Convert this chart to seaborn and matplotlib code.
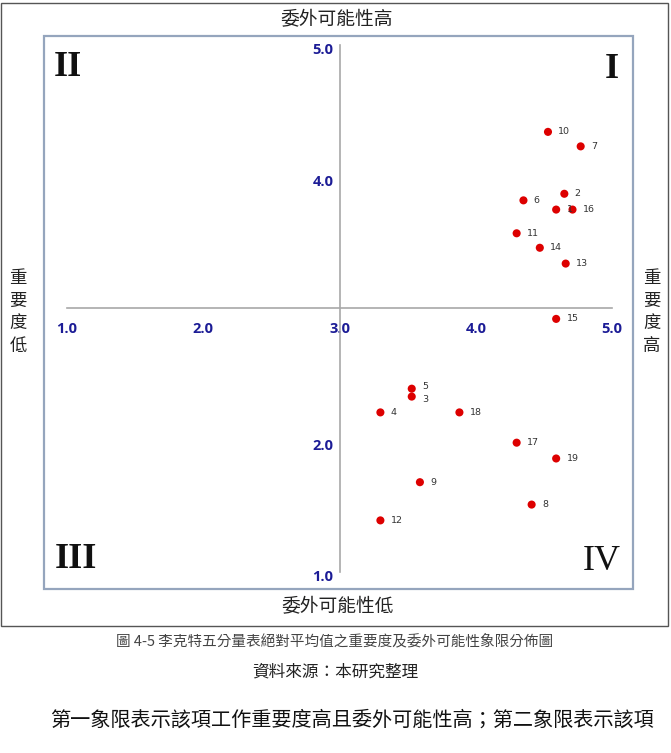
import matplotlib
matplotlib.use("Agg")
import matplotlib.pyplot as plt
import matplotlib.transforms as mtransforms
from matplotlib.patches import Rectangle
import seaborn as sns
import pandas as pd

# ---- data ----
item_ids = ["1", "2", "3", "4", "5", "6", "7", "8", "9", "10",
            "11", "12", "13", "14", "15", "16", "17", "18", "19"]
outsourcing = [4.59, 4.65, 3.53, 3.30, 3.53, 4.35, 4.77, 4.41, 3.59, 4.53,
               4.30, 3.30, 4.66, 4.47, 4.59, 4.71, 4.30, 3.88, 4.59]
importance = [3.75, 3.87, 2.33, 2.21, 2.39, 3.82, 4.23, 1.51, 1.68, 4.34,
              3.57, 1.39, 3.34, 3.46, 2.92, 3.75, 1.98, 2.21, 1.86]
x_ticks = [1.0, 2.0, 3.0, 4.0, 5.0]
y_ticks = [1.0, 2.0, 4.0, 5.0]
quadrants = ["I", "II", "III", "IV"]

df = pd.DataFrame({"id": item_ids, "x": outsourcing, "y": importance})

sns.set_style("white")
plt.rcParams["font.family"] = ["Noto Sans CJK TC", "DejaVu Sans"]

W, H = 671, 753
fig = plt.figure(figsize=(W / 100, H / 100), dpi=100)
fig.patch.set_facecolor("white")


def fx(px):
    return px / W


def fy(py):
    return 1 - py / H


# outer frame
fig.patches.append(Rectangle((fx(1), fy(626)), fx(668) - fx(1), fy(3) - fy(626),
                             transform=fig.transFigure, fill=False,
                             edgecolor="#555555", linewidth=1.0))

# inner plot area
L, T, R, B = 44, 36, 633, 589
ax = fig.add_axes([fx(L), fy(B), (R - L) / W, (B - T) / H])
ax.set_facecolor("white")

sns.scatterplot(data=df, x="x", y="y", ax=ax, color="#DD0000", s=34,
                edgecolor="none", legend=False, zorder=3)
nudge = {"5": 1.8, "3": -1.8}
for _, r in df.iterrows():
    ax.annotate(r["id"], (r["x"], r["y"]), xytext=(7.5, nudge.get(r["id"], 0)),
                textcoords="offset points", va="center", ha="left",
                fontsize=6.8, color="#333333", family="DejaVu Sans")

ax.set_xlim(0.831, 5.154)
ax.set_ylim(0.869, 5.068)
ax.set_xlabel("")
ax.set_ylabel("")

# central crossing axes
for side in ["top", "right"]:
    ax.spines[side].set_visible(False)
ax.spines["left"].set_position(("data", 3.0))
ax.spines["bottom"].set_position(("data", 3.0))
ax.spines["left"].set_bounds(1.0, 5.0)
ax.spines["bottom"].set_bounds(1.0, 5.0)
for side in ["left", "bottom"]:
    ax.spines[side].set_color("#A8A8A8")
    ax.spines[side].set_linewidth(1.2)
    ax.spines[side].set_zorder(1)

ax.set_xticks(x_ticks)
ax.set_yticks(y_ticks)
ax.set_xticklabels([f"{v:.1f}" for v in x_ticks])
ax.set_yticklabels([f"{v:.1f}" for v in y_ticks])
ax.tick_params(axis="x", direction="out", length=3, width=1, color="#A8A8A8",
               pad=7, labelsize=10.5, labelcolor="#1C1C96")
ax.tick_params(axis="y", direction="out", length=3, width=1, color="#A8A8A8",
               pad=1.5, labelsize=10.5, labelcolor="#1C1C96")
for lab in ax.get_xticklabels() + ax.get_yticklabels():
    lab.set_fontweight("bold")
    lab.set_family("Open Sans")
shift = mtransforms.ScaledTranslation(0, -4 / 100, fig.dpi_scale_trans)
for lab in ax.get_yticklabels():
    lab.set_transform(lab.get_transform() + shift)

# inner box border
ax.add_patch(Rectangle((0, 0), 1, 1, transform=ax.transAxes, fill=False,
                       edgecolor="#95A5BD", linewidth=1.6, clip_on=False,
                       zorder=5))

# quadrant numerals
qpos = {"I": (612, 70), "II": (68, 68), "III": (76, 560), "IV": (602, 562)}
for q in quadrants:
    px, py = qpos[q]
    fig.text(fx(px), fy(py), q, ha="center", va="center", fontsize=26,
             fontweight="normal" if q == "IV" else "bold",
             family="Liberation Serif", color="#111111")

# surrounding labels
cjk = ["Noto Sans CJK TC", "DejaVu Sans"]
fig.text(fx(337), fy(20), "委外可能性高", ha="center", va="center",
         fontsize=13.5, color="#222222", family=cjk)
fig.text(fx(338), fy(607), "委外可能性低", ha="center", va="center",
         fontsize=13.5, color="#222222", family=cjk)
fig.text(fx(18), fy(312), "\n".join("重要度低"), ha="center", va="center",
         fontsize=12.5, color="#222222", family=cjk, linespacing=1.35)
fig.text(fx(652), fy(312), "\n".join("重要度高"), ha="center", va="center",
         fontsize=12.5, color="#222222", family=cjk, linespacing=1.35)

# caption and body text
fig.text(fx(335), fy(641), "圖 4-5 李克特五分量表絕對平均值之重要度及委外可能性象限分佈圖",
         ha="center", va="center", fontsize=10.5, color="#444444", family=cjk)
fig.text(fx(335), fy(672), "資料來源：本研究整理", ha="center", va="center",
         fontsize=12, color="#222222", family=cjk)
fig.text(fx(352), fy(720), "第一象限表示該項工作重要度高且委外可能性高；第二象限表示該項",
         ha="center", va="center", fontsize=14.5, color="#111111", family=cjk)

fig.savefig("out.png", dpi=100, facecolor="white")
